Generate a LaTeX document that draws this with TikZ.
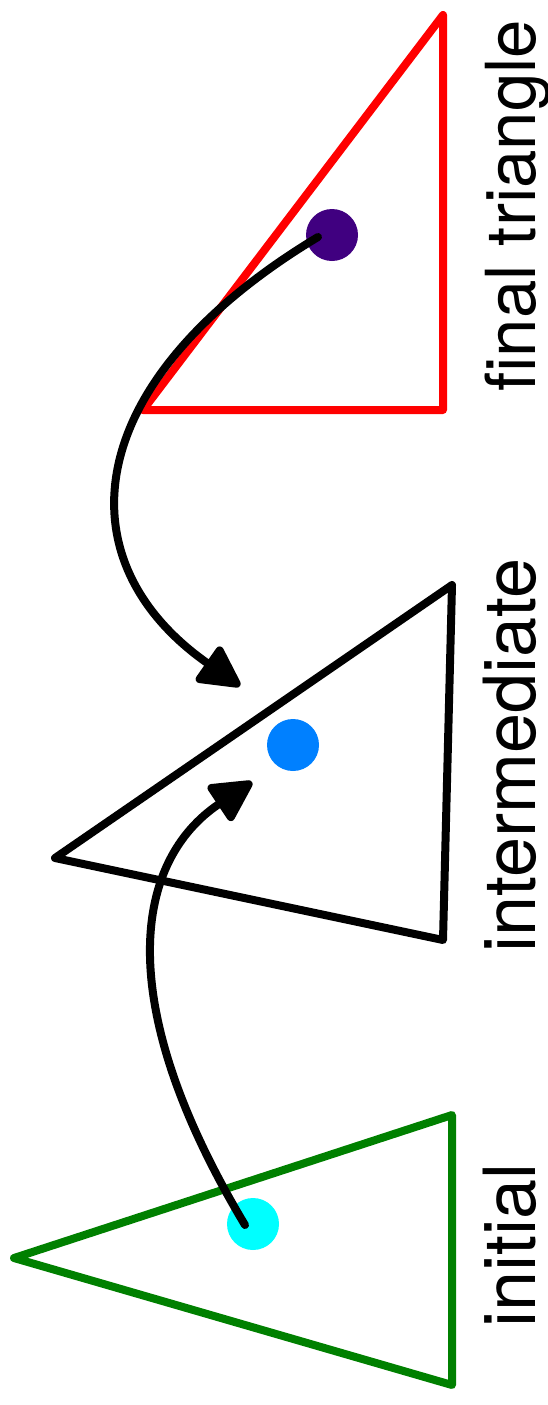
\documentclass[tikz,border=0pt]{standalone}
\usepackage{fontspec}
\setmainfont{TeX Gyre Heros}
\usetikzlibrary{arrows.meta}
\definecolor{tgreen}{RGB}{0,128,0}
\definecolor{tred}{RGB}{255,0,0}
\definecolor{tcyan}{RGB}{0,255,255}
\definecolor{tblue}{RGB}{0,128,255}
\definecolor{tpurple}{RGB}{64,0,128}
\tikzset{
  tri/.style={line width=8pt, line join=round},
  dot/.style={circle, inner sep=0pt, minimum size=52pt, fill=#1},
  curvearrow/.style={line width=8pt, line cap=round, -{Triangle[length=46pt,width=46pt,round]}},
  lbl/.style={rotate=90, anchor=base west, inner sep=0pt, font=\fontsize{72}{86}\selectfont}
}
\begin{document}
\begin{tikzpicture}[x=1pt,y=-1pt]
\useasboundingbox (0,0) rectangle (548,1405);
% triangles
\draw[tri, tgreen] (14,1258) -- (452,1115) -- (452,1385) -- cycle;
\draw[tri, black] (55,858) -- (452,585) -- (443,940) -- cycle;
\draw[tri, tred] (143,410) -- (443,15) -- (443,410) -- cycle;
% dots
\node[dot=tcyan] (d1) at (253,1224) {};
\node[dot=tblue] (d2) at (293,745) {};
\node[dot=tpurple] (d3) at (332,235) {};
% arrow endpoints
\coordinate (s1) at (245,1225);
\coordinate (e1) at (252,782);
\coordinate (s2) at (318,237);
\coordinate (e2) at (240,686);
\draw[curvearrow] (s1) .. controls (110,1000) and (135,860) .. (e1);
\draw[curvearrow] (s2) .. controls (80,380) and (60,560) .. (e2);
% labels
\node[lbl] (l1) at (535,1328) {initial};
\node[lbl] (l2) at (535,953) {intermediate};
\node[lbl, font=\fontsize{69}{83}\selectfont] (l3) at (535,392) {final triangle};
\end{tikzpicture}
\end{document}
